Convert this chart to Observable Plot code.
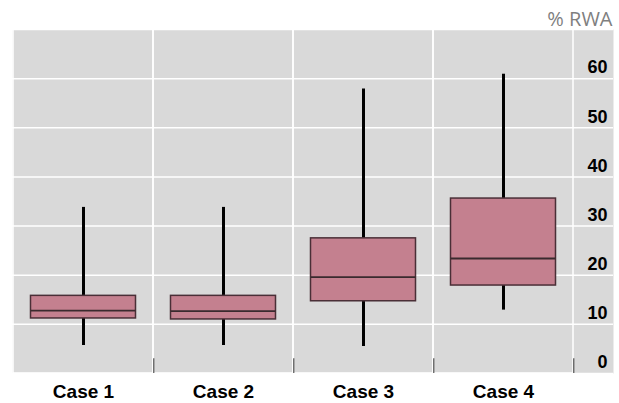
<!DOCTYPE html>
<html>
<head>
<meta charset="utf-8">
<script src="https://cdn.jsdelivr.net/npm/d3@7"></script>
<script src="https://cdn.jsdelivr.net/npm/@observablehq/plot@0.6"></script>
<style>
  html, body { margin: 0; padding: 0; background: white; }
</style>
</head>
<body>
<div id="chart"></div>
<script>
const cases = ["Case 1", "Case 2", "Case 3", "Case 4"];
const whiskerLow = [5.7, 5.7, 5.5, 12.9];
const q1 = [11.2, 11.0, 14.7, 17.9];
const median = [12.8, 12.7, 19.6, 23.4];
const q3 = [15.8, 15.8, 27.5, 35.6];
const whiskerHigh = [33.8, 33.8, 57.9, 60.9];
const gridValues = [0, 10, 20, 30, 40, 50, 60, 70];
const tickLabels = [0, 10, 20, 30, 40, 50, 60];
const unitLabel = "% RWA";

const data = cases.map((c, i) => ({
  case: c, lo: whiskerLow[i], q1: q1[i], med: median[i], q3: q3[i], hi: whiskerHigh[i]
}));

const xRange = [12, 574.4];
const step = (xRange[1] - xRange[0]) / cases.length;
const boxInset = 17.5;

const chart = Plot.plot({
  width: 619,
  height: 403,
  marginTop: 29,
  marginBottom: 30,
  marginLeft: 12,
  marginRight: 6,
  style: { fontFamily: "'Liberation Sans', Arial, sans-serif", background: "white" },
  x: { domain: cases, range: xRange, padding: 0, axis: null },
  y: { domain: [0, 70], axis: null },
  marks: [
    Plot.frame({ fill: "#d9d9d9" }),
    Plot.gridY(gridValues, { stroke: "white", strokeOpacity: 1, strokeWidth: 1.5 }),
    Plot.rect(cases, { x: d => d, y1: 0, y2: 70, fill: "none", stroke: "white", strokeWidth: 1.5 }),
    Plot.ruleX(cases, { x: d => d, y1: 0, y2: 3, dx: step / 2, stroke: "#333", strokeWidth: 1 }),
    Plot.ruleX(data, { x: "case", y1: "lo", y2: "hi", stroke: "black", strokeWidth: 3 }),
    Plot.rect(data, { x: "case", y1: "q1", y2: "q3", fill: "#c4808f", stroke: "#4a2f37", strokeWidth: 1.5, insetLeft: boxInset, insetRight: boxInset }),
    Plot.tickY(data, { x: "case", y: "med", stroke: "#3a2a2e", strokeWidth: 1.8, insetLeft: boxInset, insetRight: boxInset }),
    Plot.axisX({ anchor: "bottom", label: null, tickSize: 0, tickPadding: 11, fontSize: 19, fontWeight: "bold", fill: "black" }),
    Plot.text(tickLabels, { y: d => d, text: d => String(d), frameAnchor: "right", textAnchor: "end", dx: -6, dy: -11, fontSize: 18, fontWeight: "bold", fill: "black" }),
    Plot.text([unitLabel], { text: d => d, frameAnchor: "top-right", textAnchor: "end", lineAnchor: "bottom", dx: -1, dy: -4, fontSize: 20, fill: "#7f7f7f", fontFamily: "'Open Sans', sans-serif" })
  ]
});
document.getElementById("chart").appendChild(chart);
</script>
</body>
</html>
